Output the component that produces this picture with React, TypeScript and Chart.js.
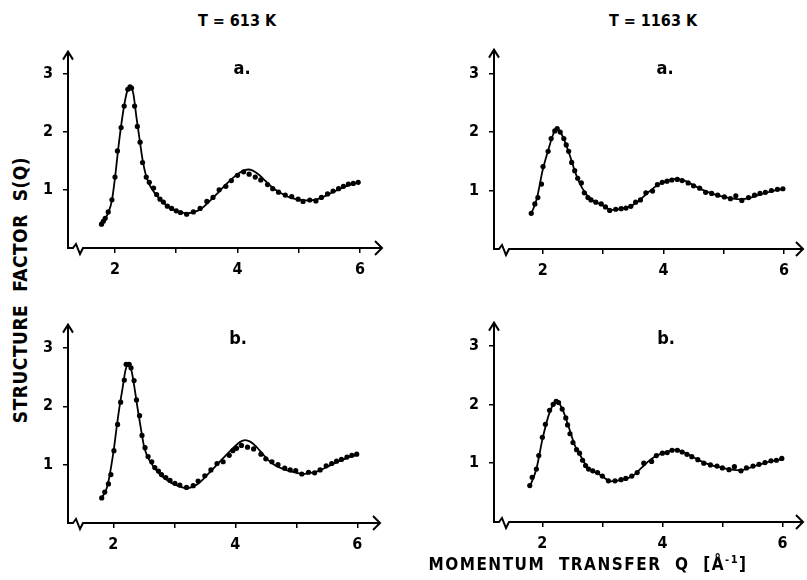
import React, { useEffect, useRef } from 'react';
import { Chart, registerables } from 'chart.js';

Chart.register(...registerables);

// ---------- tick values / labels ----------
const xTickValues = [2, 3, 4, 5, 6];
const xTickLabels = ['2', '', '4', '', '6'];
const yTickValues = [1, 2, 3];
const yTickLabels = ['1', '2', '3'];

const temperatureTitles = ['T = 613 K', 'T = 1163 K'];
const panelLetters = ['a.', 'a.', 'b.', 'b.'];
const yAxisTitle = 'STRUCTURE  FACTOR  S(Q)';
const xAxisTitle = 'MOMENTUM  TRANSFER  Q';

// ---------- T = 613 K, a. ----------
const fit613a: [number, number][] = [
  [1.78, 0.40], [1.85, 0.52], [1.90, 0.63], [1.95, 0.82], [2.00, 1.20], [2.05, 1.68],
  [2.10, 2.10], [2.15, 2.45], [2.20, 2.70], [2.25, 2.78], [2.30, 2.65], [2.35, 2.25],
  [2.40, 1.88], [2.45, 1.52], [2.50, 1.27], [2.55, 1.12], [2.60, 1.02], [2.70, 0.88],
  [2.80, 0.77], [2.90, 0.69], [3.00, 0.64], [3.10, 0.61], [3.20, 0.60], [3.30, 0.62],
  [3.40, 0.67], [3.50, 0.76], [3.60, 0.86], [3.70, 0.97], [3.80, 1.08], [3.90, 1.18],
  [4.00, 1.27], [4.10, 1.33], [4.18, 1.35], [4.25, 1.33], [4.35, 1.26], [4.45, 1.16],
  [4.55, 1.06], [4.65, 0.98], [4.75, 0.92], [4.85, 0.87], [5.00, 0.83], [5.10, 0.82],
  [5.20, 0.82], [5.30, 0.84], [5.40, 0.88], [5.50, 0.93], [5.60, 0.98], [5.70, 1.03],
  [5.80, 1.07], [5.90, 1.11], [6.00, 1.14],
];
const exp613a: [number, number][] = [
  [1.78, 0.41], [1.81, 0.46], [1.84, 0.51], [1.89, 0.62], [1.95, 0.83], [2.00, 1.22],
  [2.04, 1.67], [2.10, 2.07], [2.15, 2.44], [2.21, 2.73], [2.245, 2.77], [2.27, 2.75],
  [2.32, 2.44], [2.365, 2.09], [2.41, 1.82], [2.45, 1.47], [2.51, 1.22], [2.56, 1.13],
  [2.63, 1.03], [2.68, 0.92], [2.735, 0.84], [2.79, 0.79], [2.855, 0.72], [2.925, 0.68],
  [3.00, 0.64], [3.07, 0.61], [3.17, 0.58], [3.28, 0.62], [3.39, 0.68], [3.50, 0.80],
  [3.60, 0.87], [3.70, 1.00], [3.81, 1.06], [3.90, 1.16], [4.00, 1.25], [4.10, 1.31],
  [4.19, 1.27], [4.29, 1.22], [4.38, 1.17], [4.49, 1.09], [4.575, 1.02], [4.67, 0.96],
  [4.78, 0.91], [4.885, 0.885], [4.99, 0.84], [5.07, 0.80], [5.18, 0.825], [5.28, 0.81],
  [5.37, 0.87], [5.47, 0.93], [5.56, 0.98], [5.65, 1.02], [5.73, 1.06], [5.81, 1.10],
  [5.89, 1.11], [5.97, 1.13],
];

// ---------- T = 1163 K, a. ----------
const fit1163a: [number, number][] = [
  [1.81, 0.60], [1.90, 0.85], [2.00, 1.35], [2.10, 1.72], [2.17, 1.95], [2.23, 2.06],
  [2.28, 2.02], [2.35, 1.88], [2.45, 1.60], [2.55, 1.28], [2.65, 1.05], [2.75, 0.90],
  [2.85, 0.82], [2.95, 0.77], [3.05, 0.71], [3.12, 0.67], [3.20, 0.67], [3.30, 0.69],
  [3.45, 0.73], [3.60, 0.83], [3.75, 0.97], [3.90, 1.09], [4.05, 1.16], [4.20, 1.20],
  [4.35, 1.17], [4.50, 1.09], [4.65, 1.01], [4.80, 0.95], [5.00, 0.89], [5.15, 0.86],
  [5.30, 0.85], [5.45, 0.88], [5.60, 0.93], [5.80, 0.99], [6.00, 1.03],
];
const exp1163a: [number, number][] = [
  [1.81, 0.61], [1.87, 0.77], [1.92, 0.88], [1.98, 1.11], [2.005, 1.41], [2.09, 1.67],
  [2.14, 1.89], [2.20, 2.02], [2.24, 2.06], [2.29, 2.00], [2.35, 1.89], [2.39, 1.78],
  [2.43, 1.67], [2.48, 1.48], [2.53, 1.34], [2.58, 1.21], [2.64, 1.13], [2.69, 0.96],
  [2.75, 0.88], [2.80, 0.84], [2.88, 0.80], [2.97, 0.77], [3.04, 0.72], [3.11, 0.66],
  [3.21, 0.68], [3.30, 0.69], [3.38, 0.70], [3.46, 0.73], [3.54, 0.80], [3.62, 0.84],
  [3.71, 0.96], [3.82, 0.99], [3.90, 1.10], [3.98, 1.14], [4.06, 1.16], [4.14, 1.18],
  [4.23, 1.19], [4.31, 1.17], [4.41, 1.13], [4.50, 1.08], [4.60, 1.04], [4.70, 0.97],
  [4.80, 0.95], [4.90, 0.92], [5.01, 0.89], [5.11, 0.86], [5.20, 0.91], [5.30, 0.83],
  [5.41, 0.88], [5.51, 0.92], [5.60, 0.95], [5.69, 0.97], [5.79, 1.00], [5.89, 1.02],
  [5.98, 1.03],
];

// ---------- T = 613 K, b. ----------
const fit613b: [number, number][] = [
  [1.80, 0.42], [1.90, 0.62], [2.00, 1.20], [2.05, 1.60], [2.10, 1.98], [2.15, 2.30],
  [2.20, 2.62], [2.25, 2.72], [2.30, 2.60], [2.35, 2.30], [2.40, 1.95], [2.45, 1.63],
  [2.50, 1.33], [2.55, 1.16], [2.60, 1.06], [2.70, 0.91], [2.80, 0.80], [2.90, 0.72],
  [3.00, 0.66], [3.10, 0.62], [3.20, 0.60], [3.30, 0.62], [3.40, 0.68], [3.50, 0.78],
  [3.60, 0.89], [3.70, 1.00], [3.80, 1.11], [3.90, 1.22], [4.00, 1.32], [4.08, 1.39],
  [4.16, 1.42], [4.25, 1.39], [4.35, 1.30], [4.45, 1.18], [4.55, 1.07], [4.65, 0.99],
  [4.75, 0.94], [4.85, 0.90], [5.00, 0.86], [5.10, 0.84], [5.20, 0.85], [5.30, 0.87],
  [5.40, 0.91], [5.50, 0.96], [5.60, 1.01], [5.70, 1.06], [5.80, 1.10], [5.90, 1.14],
  [6.00, 1.17],
];
const exp613b: [number, number][] = [
  [1.81, 0.43], [1.86, 0.53], [1.92, 0.67], [1.96, 0.83], [2.01, 1.24], [2.07, 1.69],
  [2.12, 2.07], [2.18, 2.45], [2.21, 2.72], [2.26, 2.72], [2.29, 2.66], [2.34, 2.44],
  [2.38, 2.11], [2.43, 1.84], [2.47, 1.50], [2.52, 1.29], [2.57, 1.14], [2.63, 1.05],
  [2.68, 0.95], [2.74, 0.89], [2.79, 0.83], [2.86, 0.78], [2.93, 0.73], [3.01, 0.68],
  [3.09, 0.65], [3.20, 0.61], [3.31, 0.64], [3.39, 0.72], [3.50, 0.81], [3.60, 0.91],
  [3.70, 1.02], [3.80, 1.05], [3.90, 1.16], [3.96, 1.24], [4.02, 1.28], [4.10, 1.33],
  [4.20, 1.30], [4.30, 1.27], [4.42, 1.18], [4.50, 1.10], [4.60, 1.05], [4.70, 1.00],
  [4.81, 0.94], [4.90, 0.91], [4.99, 0.90], [5.09, 0.84], [5.20, 0.87], [5.30, 0.86],
  [5.39, 0.91], [5.49, 0.98], [5.58, 1.02], [5.66, 1.06], [5.74, 1.09], [5.83, 1.13],
  [5.91, 1.16], [5.99, 1.18],
];

// ---------- T = 1163 K, b. ----------
const fit1163b: [number, number][] = [
  [1.79, 0.60], [1.90, 0.90], [2.00, 1.40], [2.10, 1.80], [2.17, 1.98], [2.23, 2.06],
  [2.28, 2.02], [2.35, 1.88], [2.45, 1.58], [2.55, 1.28], [2.65, 1.10], [2.75, 0.93],
  [2.85, 0.86], [2.95, 0.81], [3.05, 0.74], [3.12, 0.69], [3.20, 0.70], [3.35, 0.72],
  [3.50, 0.78], [3.65, 0.92], [3.80, 1.06], [3.95, 1.15], [4.10, 1.20], [4.22, 1.23],
  [4.35, 1.19], [4.50, 1.11], [4.65, 1.03], [4.80, 0.97], [5.00, 0.92], [5.15, 0.89],
  [5.30, 0.88], [5.45, 0.92], [5.60, 0.97], [5.80, 1.03], [6.00, 1.07],
];
const exp1163b: [number, number][] = [
  [1.79, 0.62], [1.83, 0.76], [1.90, 0.90], [1.94, 1.13], [2.00, 1.44], [2.05, 1.66],
  [2.12, 1.90], [2.18, 2.00], [2.23, 2.05], [2.27, 2.03], [2.33, 1.92], [2.39, 1.77],
  [2.42, 1.65], [2.46, 1.50], [2.51, 1.35], [2.57, 1.23], [2.62, 1.17], [2.67, 1.05],
  [2.72, 0.96], [2.77, 0.90], [2.84, 0.87], [2.92, 0.84], [3.00, 0.78], [3.10, 0.70],
  [3.21, 0.70], [3.31, 0.72], [3.39, 0.74], [3.49, 0.78], [3.58, 0.84], [3.69, 1.00],
  [3.82, 1.03], [3.90, 1.13], [4.00, 1.17], [4.08, 1.18], [4.16, 1.22], [4.25, 1.22],
  [4.33, 1.19], [4.41, 1.15], [4.49, 1.11], [4.59, 1.06], [4.69, 1.00], [4.80, 0.97],
  [4.91, 0.95], [5.00, 0.92], [5.11, 0.89], [5.20, 0.94], [5.31, 0.87], [5.40, 0.92],
  [5.51, 0.95], [5.61, 0.98], [5.71, 1.01], [5.81, 1.04], [5.90, 1.05], [5.99, 1.08],
];

const FONT = "'DejaVu Sans Condensed', 'Liberation Sans Narrow', 'DejaVu Sans', sans-serif";

const axesPlugin = {
  id: 'arrowAxes',
  afterDraw(chart: any) {
    const { ctx, chartArea: a } = chart;
    ctx.save();
    ctx.strokeStyle = '#000';
    ctx.lineWidth = 2;
    ctx.lineJoin = 'miter';
    ctx.lineCap = 'butt';
    // y axis with arrow
    ctx.beginPath();
    ctx.moveTo(a.left, a.bottom + 1);
    ctx.lineTo(a.left, a.top);
    ctx.stroke();
    ctx.beginPath();
    ctx.moveTo(a.left - 5, a.top + 8);
    ctx.lineTo(a.left, a.top);
    ctx.lineTo(a.left + 5, a.top + 8);
    ctx.stroke();
    // x axis with break and arrow
    const y = a.bottom;
    const x0 = a.left;
    ctx.beginPath();
    ctx.moveTo(x0, y);
    ctx.lineTo(x0 + 5, y);
    ctx.lineTo(x0 + 8, y - 4);
    ctx.lineTo(x0 + 12, y + 6);
    ctx.lineTo(x0 + 15, y);
    ctx.lineTo(a.right, y);
    ctx.stroke();
    ctx.beginPath();
    ctx.moveTo(a.right - 7, y - 7);
    ctx.lineTo(a.right, y);
    ctx.lineTo(a.right - 7, y + 7);
    ctx.stroke();
    ctx.restore();
  },
};

type PanelProps = {
  left: number; top: number; width: number; height: number;
  padRight: number;
  xMin: number; xMax: number; yMax: number;
  fit: [number, number][]; exp: [number, number][];
};

function Panel(p: PanelProps) {
  const ref = useRef<HTMLCanvasElement>(null);
  useEffect(() => {
    if (!ref.current) return;
    const tickFont = { family: FONT, size: 16, weight: 'bold' as const };
    const chart = new Chart(ref.current, {
      type: 'scatter',
      data: {
        datasets: [
          {
            type: 'line',
            data: p.fit.map(([x, y]) => ({ x, y })),
            borderColor: '#000',
            borderWidth: 1.8,
            pointRadius: 0,
            cubicInterpolationMode: 'monotone',
            fill: false,
            clip: false as any,
          } as any,
          {
            type: 'scatter',
            data: p.exp.map(([x, y]) => ({ x, y })),
            backgroundColor: '#000',
            borderColor: '#000',
            borderWidth: 0,
            pointRadius: 2.6,
            clip: false as any,
          } as any,
        ],
      },
      options: {
        animation: false,
        responsive: false,
        devicePixelRatio: 1,
        events: [],
        layout: { padding: { top: 10, right: p.padRight, left: 0, bottom: 0 } },
        plugins: { legend: { display: false }, tooltip: { enabled: false } },
        scales: {
          x: {
            type: 'linear',
            min: p.xMin,
            max: p.xMax,
            afterBuildTicks: (s: any) => { s.ticks = xTickValues.map((v) => ({ value: v })); },
            afterFit: (s: any) => { s.height = 30; },
            ticks: {
              callback: (_v: any, i: number) => xTickLabels[i],
              font: tickFont,
              color: '#000',
              padding: 7,
              autoSkip: false,
              maxRotation: 0,
            },
            grid: { drawOnChartArea: false, drawTicks: true, tickLength: 5, color: '#000', lineWidth: 1.5 },
            border: { display: false },
          },
          y: {
            type: 'linear',
            min: 0,
            max: p.yMax,
            afterBuildTicks: (s: any) => { s.ticks = yTickValues.map((v) => ({ value: v })); },
            afterFit: (s: any) => { s.width = 30; },
            ticks: {
              callback: (_v: any, i: number) => yTickLabels[i],
              font: tickFont,
              color: '#000',
              padding: 10,
              autoSkip: false,
            },
            grid: { drawOnChartArea: false, drawTicks: true, tickLength: 5, color: '#000', lineWidth: 1.5 },
            border: { display: false },
          },
        },
      } as any,
      plugins: [axesPlugin],
    });
    return () => chart.destroy();
  }, []);
  return (
    <canvas
      ref={ref}
      width={p.width}
      height={p.height}
      style={{ position: 'absolute', left: p.left, top: p.top, width: p.width, height: p.height }}
    />
  );
}

const textStyle = (left: number, top: number, size: number, extra: React.CSSProperties = {}): React.CSSProperties => ({
  position: 'absolute',
  left,
  top,
  transform: 'translate(-50%, -50%)',
  fontFamily: FONT,
  fontWeight: 'bold',
  fontSize: size,
  color: '#000',
  whiteSpace: 'nowrap',
  lineHeight: 1,
  ...extra,
});

export default function App() {
  return (
    <div style={{ position: 'absolute', left: 0, top: 0, width: 807, height: 580, background: '#fff', overflow: 'hidden' }}>
      <Panel left={38} top={32} width={354} height={246} padRight={10}
        xMin={1.233} xMax={6.359} yMax={3.377} fit={fit613a} exp={exp613a} />
      <Panel left={464} top={30} width={343} height={249} padRight={2}
        xMin={1.193} xMax={6.313} yMax={3.41} fit={fit1163a} exp={exp1163a} />
      <Panel left={38} top={305} width={352} height={248} padRight={10}
        xMin={1.257} xMax={6.372} yMax={3.40} fit={fit613b} exp={exp613b} />
      <Panel left={464} top={303} width={343} height={249} padRight={2}
        xMin={1.194} xMax={6.343} yMax={3.39} fit={fit1163b} exp={exp1163b} />

      <div style={textStyle(237, 21, 16)}>{temperatureTitles[0]}</div>
      <div style={textStyle(653, 21, 16)}>{temperatureTitles[1]}</div>

      <div style={textStyle(242, 68, 18)}>{panelLetters[0]}</div>
      <div style={textStyle(665, 68, 18)}>{panelLetters[1]}</div>
      <div style={textStyle(238, 338, 18)}>{panelLetters[2]}</div>
      <div style={textStyle(666, 338, 18)}>{panelLetters[3]}</div>

      <div style={textStyle(20, 290, 19, { transform: 'translate(-50%, -50%) rotate(-90deg)', letterSpacing: 0.5, whiteSpace: 'pre' })}>
        {yAxisTitle}
      </div>
      <div style={textStyle(588, 564, 17, { letterSpacing: 1.5, whiteSpace: 'pre' })}>
        {xAxisTitle}  [Å<sup style={{ fontSize: 11, verticalAlign: 'super', lineHeight: 0 }}>-1</sup>]
      </div>
    </div>
  );
}
